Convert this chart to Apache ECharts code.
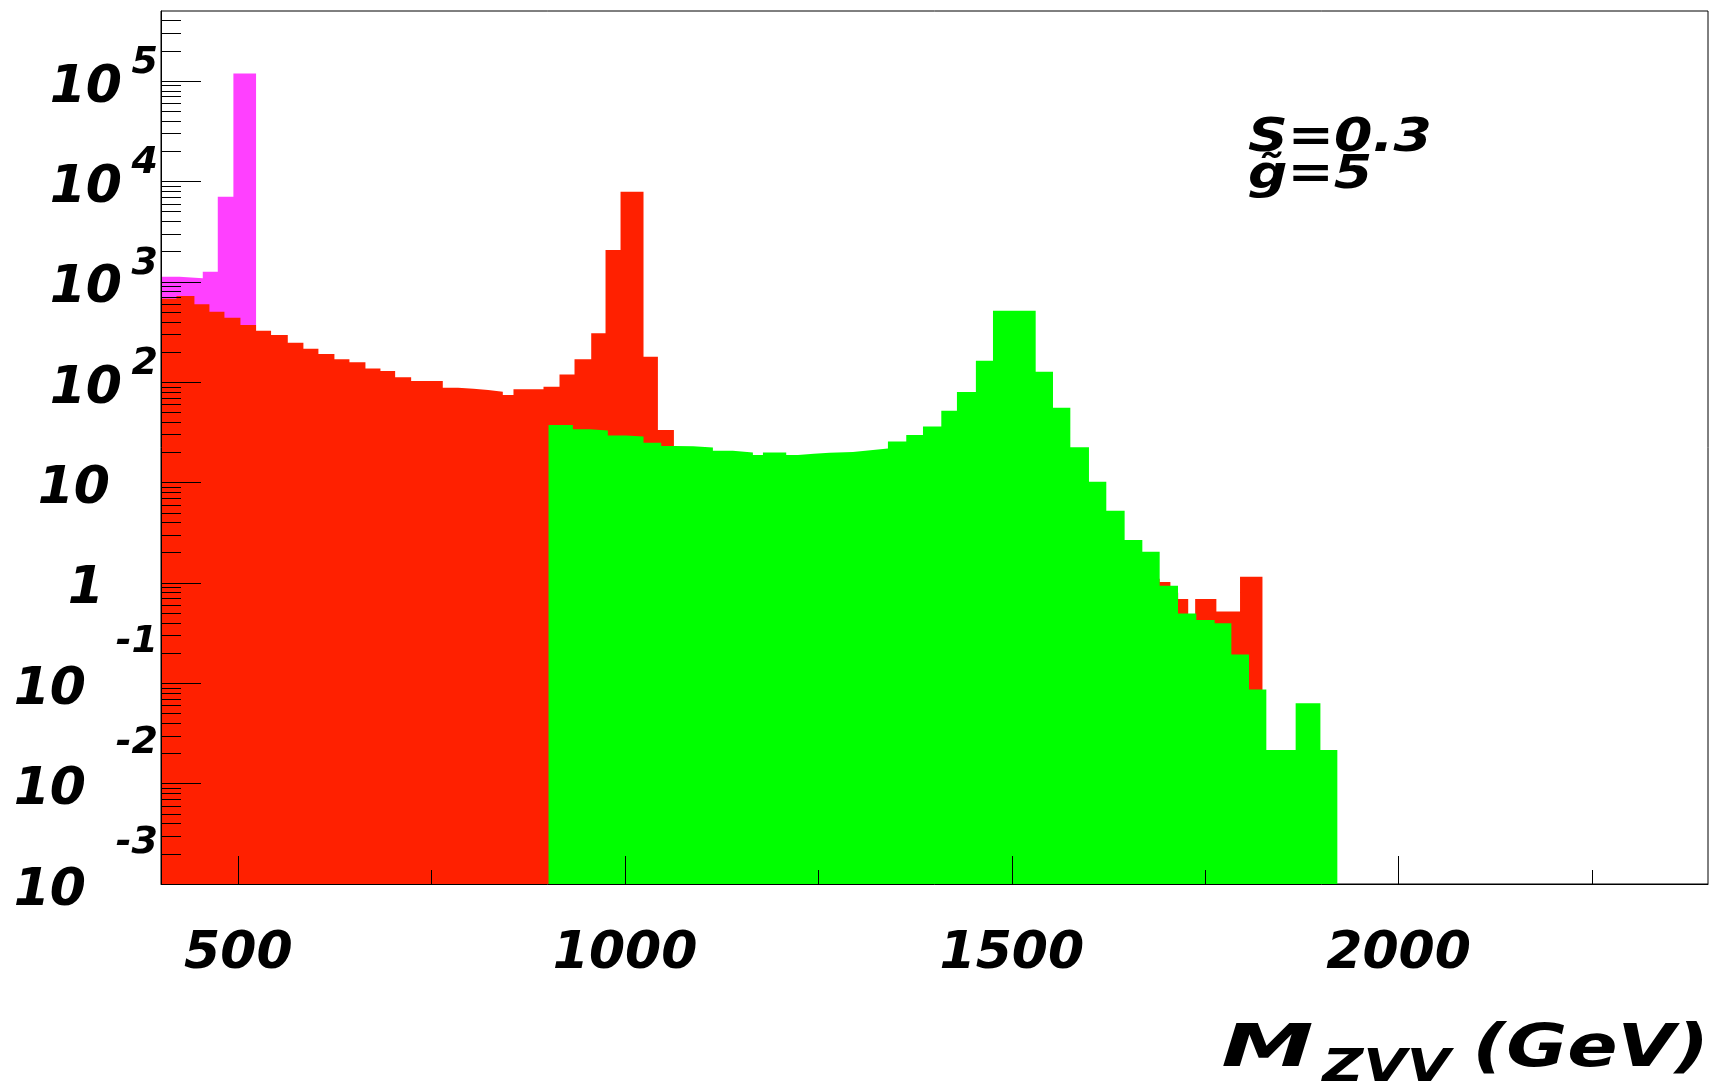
<!DOCTYPE html>
<html>
<head>
<meta charset="utf-8">
<script src="https://cdn.jsdelivr.net/npm/echarts@6/dist/echarts.min.js"></script>
<style>
html,body{margin:0;padding:0;background:#ffffff;}
#chart{width:1723px;height:1087px;}
</style>
</head>
<body>
<div id="chart"></div>
<script>
// ---- data (bin edges in GeV, bin contents) ----
const magentaEdges = [400, 423.8, 454.0, 473.4, 493.6, 522.9];
const magentaValues = [1124, 1084, 1262, 7046, 119400];

const redEdges = [400, 420, 443.2, 462.6, 482.0, 502.7, 522.9, 542.3, 563.9, 584.1,
  603.5, 624.2, 643.6, 664.3, 683.7, 702.7, 723.4, 764.3, 784.0, 804.0,
  823.0, 841.9, 855.7, 894.5, 915.2, 934.6, 956.2, 974.7, 994.1, 1023.8,
  1042.4, 1063.1, 1103, 1143, 1183, 1223, 1263, 1303, 1343, 1383,
  1423, 1463, 1503, 1543, 1583, 1623, 1663, 1691.1, 1705.0, 1715.0,
  1728.0, 1737.0, 1764.4, 1795.0, 1824.0];
const redValues = [680, 725, 597, 504, 439, 371, 326, 295, 248, 216,
  191, 169, 158, 137, 129, 112, 103, 88.3, 86.3, 83.6,
  80.4, 74.6, 85, 90.2, 119.7, 169, 307, 2075, 7912, 179.6,
  33.4, 19, 15, 12, 10, 8, 6.5, 5.3, 4.3, 3.5,
  2.9, 2.4, 2.0, 1.7, 1.4, 1.2, 1.1, 1.02, 0.8, 0.69,
  0.45, 0.69, 0.52, 1.15];

const greenEdges = [901.0, 932.5, 954.0, 977.7, 1001.0, 1023.8, 1046.7, 1063.9, 1088.0, 1113.5,
  1139.3, 1165.2, 1178.2, 1208.3, 1223.4, 1244.0, 1264.3, 1294.5, 1320.4, 1339.8,
  1363.5, 1385.1, 1408.8, 1429.0, 1453.5, 1475.6, 1530.8, 1553.2, 1575.6, 1599.7,
  1622.1, 1645.8, 1668.7, 1691.1, 1714.8, 1738.5, 1762.2, 1783.8, 1806.6, 1829.0,
  1866.9, 1898.9, 1920.8];
const greenValues = [37.5, 34.0, 33.0, 29.5, 28.8, 25.0, 23.2, 23.0, 22.4, 20.8,
  19.9, 18.8, 19.9, 18.8, 19.4, 19.8, 20.2, 21.1, 21.9, 25.6,
  29.8, 36.1, 52.0, 80.0, 163.6, 515, 127.4, 55.7, 22.5, 10.2,
  5.25, 2.68, 2.05, 0.94, 0.495, 0.428, 0.397, 0.194, 0.0866, 0.0217,
  0.0634, 0.0217];

const xLabelValues = [500, 1000, 1500, 2000];
const xMinorTickValues = [750, 1250, 1750, 2250];
const yTickValues = [1e-3, 1e-2, 1e-1, 1, 10, 100, 1e3, 1e4, 1e5];
const xRange = [400, 2400];
const yRange = [1e-3, 5e5];
const annotation = ['S=0.3', 'g\u0303=5'];
const axisTitle = {main: 'M', sub: 'ZVV', unit: '(GeV)'};

// minor log ticks 2..9 x 10^k
const yMinorTickValues = [];
for (let k = -3; k <= 5; k++) {
  for (let m = 2; m <= 9; m++) {
    const v = m * Math.pow(10, k);
    if (v < yRange[1]) yMinorTickValues.push(Number(v.toPrecision(3)));
  }
}

function toSteps(edges, values) {
  const pts = [];
  for (let i = 0; i < values.length; i++) pts.push([edges[i], values[i]]);
  pts.push([edges[values.length], values[values.length - 1]]);
  return pts;
}

const FONT = '"DejaVu Sans", "Liberation Sans", sans-serif';
const txt = {fontFamily: FONT, fontWeight: 'bold', fontStyle: 'italic', color: '#000'};

function histSeries(name, edges, values, color, z) {
  return {
    name: name,
    type: 'line',
    step: 'end',
    data: toSteps(edges, values),
    showSymbol: false,
    symbol: 'none',
    lineStyle: {width: 0, opacity: 0},
    areaStyle: {color: color, opacity: 1, origin: 'start'},
    z: z,
    silent: true,
    animation: false
  };
}

function decade(v) { return Math.round(Math.log10(v)); }

const chart = echarts.init(document.getElementById('chart'), null, {renderer: 'canvas'});
chart.setOption({
  animation: false,
  backgroundColor: '#ffffff',
  grid: {
    left: 161, right: 15, top: 11, bottom: 203,
    show: true, borderColor: '#000', borderWidth: 1, backgroundColor: '#ffffff',
    containLabel: false, outerBoundsMode: 'none'
  },
  xAxis: [
    {
      type: 'value', min: xRange[0], max: xRange[1], position: 'bottom', z: 5,
      axisLine: {show: true, lineStyle: {color: '#000', width: 1}},
      axisTick: {show: true, inside: true, length: 28, customValues: xLabelValues,
                 lineStyle: {color: '#000', width: 1}},
      axisLabel: {show: true, customValues: xLabelValues, margin: 44, hideOverlap: false,
                  formatter: function (v) { return String(v); },
                  fontSize: 52, lineHeight: 52, fontFamily: FONT, fontWeight: 'bold',
                  fontStyle: 'italic', color: '#000'},
      splitLine: {show: false}
    },
    {
      type: 'value', min: xRange[0], max: xRange[1], position: 'bottom', z: 5,
      axisLine: {show: false},
      axisTick: {show: true, inside: true, length: 14, customValues: xMinorTickValues,
                 lineStyle: {color: '#000', width: 1}},
      axisLabel: {show: false},
      splitLine: {show: false}
    }
  ],
  yAxis: [
    {
      // main log axis: decade ticks and the mantissa part ("10" / "1") of labels
      type: 'log', logBase: 10, min: yRange[0], max: yRange[1], position: 'left', z: 5,
      axisLine: {show: true, lineStyle: {color: '#000', width: 1}},
      axisTick: {show: true, inside: true, length: 40, customValues: yTickValues,
                 lineStyle: {color: '#000', width: 1}},
      axisLabel: {
        show: true, customValues: yTickValues, margin: 3, hideOverlap: false,
        showMinLabel: true, showMaxLabel: true,
        formatter: function (v) {
          const e = decade(v);
          if (e >= 2) return '{b|10}{t1| }';
          if (e === 1) return '{b|10}{t2| }';
          if (e === 0) return '{b|1}{t3| }';
          return '{b|10}{t4| }';
        },
        rich: {
          b: Object.assign({fontSize: 52, lineHeight: 46, verticalAlign: 'middle', padding: [14, 0, 0, 0]}, txt),
          t1: Object.assign({fontSize: 30, lineHeight: 30, verticalAlign: 'middle', width: 36}, txt),
          t2: Object.assign({fontSize: 30, lineHeight: 30, verticalAlign: 'middle', width: 48}, txt),
          t3: Object.assign({fontSize: 30, lineHeight: 30, verticalAlign: 'middle', width: 54}, txt),
          t4: Object.assign({fontSize: 30, lineHeight: 30, verticalAlign: 'middle', width: 72}, txt)
        }
      },
      splitLine: {show: false}
    },
    {
      // minor log ticks 2..9
      type: 'log', logBase: 10, min: yRange[0], max: yRange[1], position: 'left', z: 5,
      axisLine: {show: false},
      axisTick: {show: true, inside: true, length: 20, customValues: yMinorTickValues,
                 lineStyle: {color: '#000', width: 1}},
      axisLabel: {show: false},
      splitLine: {show: false}
    },
    {
      // exponent part of the decade labels (superscripts)
      type: 'log', logBase: 10, min: yRange[0], max: yRange[1], position: 'left', z: 5,
      axisLine: {show: false},
      axisTick: {show: false},
      axisLabel: {
        show: true, customValues: yTickValues, margin: 3, hideOverlap: false,
        showMinLabel: true, showMaxLabel: true, verticalAlign: 'bottom',
        formatter: function (v) {
          const e = decade(v);
          if (e >= 2) return '{e|' + e + '}';
          if (e < 0) return '{n|' + e + '}';
          return '';
        },
        rich: {
          e: Object.assign({fontSize: 38, lineHeight: 36}, txt),
          n: Object.assign({fontSize: 38, lineHeight: 82}, txt)
        }
      },
      splitLine: {show: false}
    }
  ],
  series: [
    histSeries('magenta', magentaEdges, magentaValues, '#ff40ff', 2),
    histSeries('red', redEdges, redValues, '#ff2000', 3),
    histSeries('green', greenEdges, greenValues, '#00ff00', 4)
  ],
  graphic: [
    {
      type: 'group', x: 1248, y: 0, scaleX: 1.2,
      children: [
        {type: 'text', x: 0, y: 139, style: {text: annotation[0], font: 'italic bold 46px ' + FONT,
          fill: '#000', textAlign: 'left', textVerticalAlign: 'middle', align: 'left', verticalAlign: 'middle'}},
        {type: 'text', x: 0, y: 176, style: {text: annotation[1], font: 'italic bold 46px ' + FONT,
          fill: '#000', textAlign: 'left', textVerticalAlign: 'middle', align: 'left', verticalAlign: 'middle'}}
      ]
    },
    {
      type: 'group', x: 1709, y: 0, scaleX: 1.28,
      children: [
        {type: 'text', x: 0, y: 1051, style: {text: axisTitle.unit, font: 'italic bold 58px ' + FONT,
          fill: '#000', textAlign: 'right', textVerticalAlign: 'middle', align: 'right', verticalAlign: 'middle'}},
        {type: 'text', x: -202, y: 1070, style: {text: axisTitle.sub, font: 'italic bold 44px ' + FONT,
          fill: '#000', textAlign: 'right', textVerticalAlign: 'middle', align: 'right', verticalAlign: 'middle'}},
        {type: 'text', x: -309, y: 1051, scaleX: 1.25, style: {text: axisTitle.main, font: 'italic bold 58px ' + FONT,
          fill: '#000', textAlign: 'right', textVerticalAlign: 'middle', align: 'right', verticalAlign: 'middle'}}
      ]
    }
  ]
});
</script>
</body>
</html>
